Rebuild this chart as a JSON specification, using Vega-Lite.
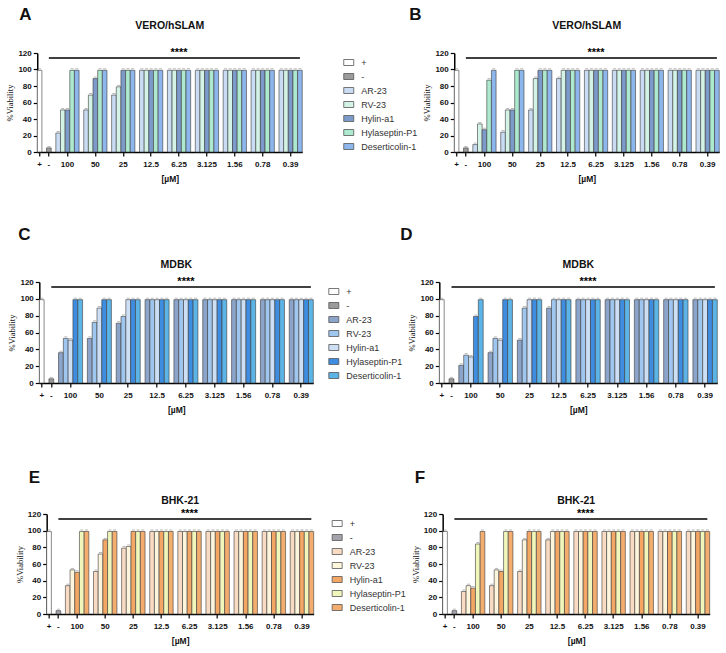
{
"$schema":"https://vega.github.io/schema/vega-lite/v6.json",
"datasets":{
"A":[{"d":"+","t":"+","v":99},{"d":"-","t":"-","v":5},
{"d":"100","t":"AR-23","v":23},{"d":"100","t":"RV-23","v":51},{"d":"100","t":"Hylin-a1","v":51},{"d":"100","t":"Hylaseptin-P1","v":99},{"d":"100","t":"Deserticolin-1","v":99},
{"d":"50","t":"AR-23","v":51},{"d":"50","t":"RV-23","v":69},{"d":"50","t":"Hylin-a1","v":89},{"d":"50","t":"Hylaseptin-P1","v":99},{"d":"50","t":"Deserticolin-1","v":99},
{"d":"25","t":"AR-23","v":69},{"d":"25","t":"RV-23","v":79},{"d":"25","t":"Hylin-a1","v":99},{"d":"25","t":"Hylaseptin-P1","v":99},{"d":"25","t":"Deserticolin-1","v":99},
{"d":"12.5","t":"AR-23","v":99},{"d":"12.5","t":"RV-23","v":99},{"d":"12.5","t":"Hylin-a1","v":99},{"d":"12.5","t":"Hylaseptin-P1","v":99},{"d":"12.5","t":"Deserticolin-1","v":99},
{"d":"6.25","t":"AR-23","v":99},{"d":"6.25","t":"RV-23","v":99},{"d":"6.25","t":"Hylin-a1","v":99},{"d":"6.25","t":"Hylaseptin-P1","v":99},{"d":"6.25","t":"Deserticolin-1","v":99},
{"d":"3.125","t":"AR-23","v":99},{"d":"3.125","t":"RV-23","v":99},{"d":"3.125","t":"Hylin-a1","v":99},{"d":"3.125","t":"Hylaseptin-P1","v":99},{"d":"3.125","t":"Deserticolin-1","v":99},
{"d":"1.56","t":"AR-23","v":99},{"d":"1.56","t":"RV-23","v":99},{"d":"1.56","t":"Hylin-a1","v":99},{"d":"1.56","t":"Hylaseptin-P1","v":99},{"d":"1.56","t":"Deserticolin-1","v":99},
{"d":"0.78","t":"AR-23","v":99},{"d":"0.78","t":"RV-23","v":99},{"d":"0.78","t":"Hylin-a1","v":99},{"d":"0.78","t":"Hylaseptin-P1","v":99},{"d":"0.78","t":"Deserticolin-1","v":99},
{"d":"0.39","t":"AR-23","v":99},{"d":"0.39","t":"RV-23","v":99},{"d":"0.39","t":"Hylin-a1","v":99},{"d":"0.39","t":"Hylaseptin-P1","v":99},{"d":"0.39","t":"Deserticolin-1","v":99}],
"B":[{"d":"+","t":"+","v":99},{"d":"-","t":"-","v":5},
{"d":"100","t":"AR-23","v":9},{"d":"100","t":"RV-23","v":34},{"d":"100","t":"Hylin-a1","v":27},{"d":"100","t":"Hylaseptin-P1","v":87},{"d":"100","t":"Deserticolin-1","v":99},
{"d":"50","t":"AR-23","v":24},{"d":"50","t":"RV-23","v":51},{"d":"50","t":"Hylin-a1","v":51},{"d":"50","t":"Hylaseptin-P1","v":99},{"d":"50","t":"Deserticolin-1","v":99},
{"d":"25","t":"AR-23","v":51},{"d":"25","t":"RV-23","v":89},{"d":"25","t":"Hylin-a1","v":99},{"d":"25","t":"Hylaseptin-P1","v":99},{"d":"25","t":"Deserticolin-1","v":99},
{"d":"12.5","t":"AR-23","v":89},{"d":"12.5","t":"RV-23","v":99},{"d":"12.5","t":"Hylin-a1","v":99},{"d":"12.5","t":"Hylaseptin-P1","v":99},{"d":"12.5","t":"Deserticolin-1","v":99},
{"d":"6.25","t":"AR-23","v":99},{"d":"6.25","t":"RV-23","v":99},{"d":"6.25","t":"Hylin-a1","v":99},{"d":"6.25","t":"Hylaseptin-P1","v":99},{"d":"6.25","t":"Deserticolin-1","v":99},
{"d":"3.125","t":"AR-23","v":99},{"d":"3.125","t":"RV-23","v":99},{"d":"3.125","t":"Hylin-a1","v":99},{"d":"3.125","t":"Hylaseptin-P1","v":99},{"d":"3.125","t":"Deserticolin-1","v":99},
{"d":"1.56","t":"AR-23","v":99},{"d":"1.56","t":"RV-23","v":99},{"d":"1.56","t":"Hylin-a1","v":99},{"d":"1.56","t":"Hylaseptin-P1","v":99},{"d":"1.56","t":"Deserticolin-1","v":99},
{"d":"0.78","t":"AR-23","v":99},{"d":"0.78","t":"RV-23","v":99},{"d":"0.78","t":"Hylin-a1","v":99},{"d":"0.78","t":"Hylaseptin-P1","v":99},{"d":"0.78","t":"Deserticolin-1","v":99},
{"d":"0.39","t":"AR-23","v":99},{"d":"0.39","t":"RV-23","v":99},{"d":"0.39","t":"Hylin-a1","v":99},{"d":"0.39","t":"Hylaseptin-P1","v":99},{"d":"0.39","t":"Deserticolin-1","v":99}],
"C":[{"d":"+","t":"+","v":99},{"d":"-","t":"-","v":5},
{"d":"100","t":"AR-23","v":36},{"d":"100","t":"RV-23","v":53},{"d":"100","t":"Hylin-a1","v":51},{"d":"100","t":"Hylaseptin-P1","v":99},{"d":"100","t":"Deserticolin-1","v":99},
{"d":"50","t":"AR-23","v":53},{"d":"50","t":"RV-23","v":72},{"d":"50","t":"Hylin-a1","v":89},{"d":"50","t":"Hylaseptin-P1","v":99},{"d":"50","t":"Deserticolin-1","v":99},
{"d":"25","t":"AR-23","v":71},{"d":"25","t":"RV-23","v":79},{"d":"25","t":"Hylin-a1","v":99},{"d":"25","t":"Hylaseptin-P1","v":99},{"d":"25","t":"Deserticolin-1","v":99},
{"d":"12.5","t":"AR-23","v":99},{"d":"12.5","t":"RV-23","v":99},{"d":"12.5","t":"Hylin-a1","v":99},{"d":"12.5","t":"Hylaseptin-P1","v":99},{"d":"12.5","t":"Deserticolin-1","v":99},
{"d":"6.25","t":"AR-23","v":99},{"d":"6.25","t":"RV-23","v":99},{"d":"6.25","t":"Hylin-a1","v":99},{"d":"6.25","t":"Hylaseptin-P1","v":99},{"d":"6.25","t":"Deserticolin-1","v":99},
{"d":"3.125","t":"AR-23","v":99},{"d":"3.125","t":"RV-23","v":99},{"d":"3.125","t":"Hylin-a1","v":99},{"d":"3.125","t":"Hylaseptin-P1","v":99},{"d":"3.125","t":"Deserticolin-1","v":99},
{"d":"1.56","t":"AR-23","v":99},{"d":"1.56","t":"RV-23","v":99},{"d":"1.56","t":"Hylin-a1","v":99},{"d":"1.56","t":"Hylaseptin-P1","v":99},{"d":"1.56","t":"Deserticolin-1","v":99},
{"d":"0.78","t":"AR-23","v":99},{"d":"0.78","t":"RV-23","v":99},{"d":"0.78","t":"Hylin-a1","v":99},{"d":"0.78","t":"Hylaseptin-P1","v":99},{"d":"0.78","t":"Deserticolin-1","v":99},
{"d":"0.39","t":"AR-23","v":99},{"d":"0.39","t":"RV-23","v":99},{"d":"0.39","t":"Hylin-a1","v":99},{"d":"0.39","t":"Hylaseptin-P1","v":99},{"d":"0.39","t":"Deserticolin-1","v":99}],
"D":[{"d":"+","t":"+","v":99},{"d":"-","t":"-","v":5},
{"d":"100","t":"AR-23","v":21},{"d":"100","t":"RV-23","v":33},{"d":"100","t":"Hylin-a1","v":31},{"d":"100","t":"Hylaseptin-P1","v":79},{"d":"100","t":"Deserticolin-1","v":99},
{"d":"50","t":"AR-23","v":36},{"d":"50","t":"RV-23","v":53},{"d":"50","t":"Hylin-a1","v":51},{"d":"50","t":"Hylaseptin-P1","v":99},{"d":"50","t":"Deserticolin-1","v":99},
{"d":"25","t":"AR-23","v":51},{"d":"25","t":"RV-23","v":89},{"d":"25","t":"Hylin-a1","v":99},{"d":"25","t":"Hylaseptin-P1","v":99},{"d":"25","t":"Deserticolin-1","v":99},
{"d":"12.5","t":"AR-23","v":89},{"d":"12.5","t":"RV-23","v":99},{"d":"12.5","t":"Hylin-a1","v":99},{"d":"12.5","t":"Hylaseptin-P1","v":99},{"d":"12.5","t":"Deserticolin-1","v":99},
{"d":"6.25","t":"AR-23","v":99},{"d":"6.25","t":"RV-23","v":99},{"d":"6.25","t":"Hylin-a1","v":99},{"d":"6.25","t":"Hylaseptin-P1","v":99},{"d":"6.25","t":"Deserticolin-1","v":99},
{"d":"3.125","t":"AR-23","v":99},{"d":"3.125","t":"RV-23","v":99},{"d":"3.125","t":"Hylin-a1","v":99},{"d":"3.125","t":"Hylaseptin-P1","v":99},{"d":"3.125","t":"Deserticolin-1","v":99},
{"d":"1.56","t":"AR-23","v":99},{"d":"1.56","t":"RV-23","v":99},{"d":"1.56","t":"Hylin-a1","v":99},{"d":"1.56","t":"Hylaseptin-P1","v":99},{"d":"1.56","t":"Deserticolin-1","v":99},
{"d":"0.78","t":"AR-23","v":99},{"d":"0.78","t":"RV-23","v":99},{"d":"0.78","t":"Hylin-a1","v":99},{"d":"0.78","t":"Hylaseptin-P1","v":99},{"d":"0.78","t":"Deserticolin-1","v":99},
{"d":"0.39","t":"AR-23","v":99},{"d":"0.39","t":"RV-23","v":99},{"d":"0.39","t":"Hylin-a1","v":99},{"d":"0.39","t":"Hylaseptin-P1","v":99},{"d":"0.39","t":"Deserticolin-1","v":99}],
"E":[{"d":"+","t":"+","v":99},{"d":"-","t":"-","v":4},
{"d":"100","t":"AR-23","v":34},{"d":"100","t":"RV-23","v":53},{"d":"100","t":"Hylin-a1","v":50},{"d":"100","t":"Hylaseptin-P1","v":99},{"d":"100","t":"Deserticolin-1","v":99},
{"d":"50","t":"AR-23","v":51},{"d":"50","t":"RV-23","v":72},{"d":"50","t":"Hylin-a1","v":89},{"d":"50","t":"Hylaseptin-P1","v":99},{"d":"50","t":"Deserticolin-1","v":99},
{"d":"25","t":"AR-23","v":79},{"d":"25","t":"RV-23","v":81},{"d":"25","t":"Hylin-a1","v":99},{"d":"25","t":"Hylaseptin-P1","v":99},{"d":"25","t":"Deserticolin-1","v":99},
{"d":"12.5","t":"AR-23","v":99},{"d":"12.5","t":"RV-23","v":99},{"d":"12.5","t":"Hylin-a1","v":99},{"d":"12.5","t":"Hylaseptin-P1","v":99},{"d":"12.5","t":"Deserticolin-1","v":99},
{"d":"6.25","t":"AR-23","v":99},{"d":"6.25","t":"RV-23","v":99},{"d":"6.25","t":"Hylin-a1","v":99},{"d":"6.25","t":"Hylaseptin-P1","v":99},{"d":"6.25","t":"Deserticolin-1","v":99},
{"d":"3.125","t":"AR-23","v":99},{"d":"3.125","t":"RV-23","v":99},{"d":"3.125","t":"Hylin-a1","v":99},{"d":"3.125","t":"Hylaseptin-P1","v":99},{"d":"3.125","t":"Deserticolin-1","v":99},
{"d":"1.56","t":"AR-23","v":99},{"d":"1.56","t":"RV-23","v":99},{"d":"1.56","t":"Hylin-a1","v":99},{"d":"1.56","t":"Hylaseptin-P1","v":99},{"d":"1.56","t":"Deserticolin-1","v":99},
{"d":"0.78","t":"AR-23","v":99},{"d":"0.78","t":"RV-23","v":99},{"d":"0.78","t":"Hylin-a1","v":99},{"d":"0.78","t":"Hylaseptin-P1","v":99},{"d":"0.78","t":"Deserticolin-1","v":99},
{"d":"0.39","t":"AR-23","v":99},{"d":"0.39","t":"RV-23","v":99},{"d":"0.39","t":"Hylin-a1","v":99},{"d":"0.39","t":"Hylaseptin-P1","v":99},{"d":"0.39","t":"Deserticolin-1","v":99}],
"F":[{"d":"+","t":"+","v":99},{"d":"-","t":"-","v":4},
{"d":"100","t":"AR-23","v":27},{"d":"100","t":"RV-23","v":34},{"d":"100","t":"Hylin-a1","v":31},{"d":"100","t":"Hylaseptin-P1","v":84},{"d":"100","t":"Deserticolin-1","v":99},
{"d":"50","t":"AR-23","v":34},{"d":"50","t":"RV-23","v":53},{"d":"50","t":"Hylin-a1","v":51},{"d":"50","t":"Hylaseptin-P1","v":99},{"d":"50","t":"Deserticolin-1","v":99},
{"d":"25","t":"AR-23","v":51},{"d":"25","t":"RV-23","v":89},{"d":"25","t":"Hylin-a1","v":99},{"d":"25","t":"Hylaseptin-P1","v":99},{"d":"25","t":"Deserticolin-1","v":99},
{"d":"12.5","t":"AR-23","v":89},{"d":"12.5","t":"RV-23","v":99},{"d":"12.5","t":"Hylin-a1","v":99},{"d":"12.5","t":"Hylaseptin-P1","v":99},{"d":"12.5","t":"Deserticolin-1","v":99},
{"d":"6.25","t":"AR-23","v":99},{"d":"6.25","t":"RV-23","v":99},{"d":"6.25","t":"Hylin-a1","v":99},{"d":"6.25","t":"Hylaseptin-P1","v":99},{"d":"6.25","t":"Deserticolin-1","v":99},
{"d":"3.125","t":"AR-23","v":99},{"d":"3.125","t":"RV-23","v":99},{"d":"3.125","t":"Hylin-a1","v":99},{"d":"3.125","t":"Hylaseptin-P1","v":99},{"d":"3.125","t":"Deserticolin-1","v":99},
{"d":"1.56","t":"AR-23","v":99},{"d":"1.56","t":"RV-23","v":99},{"d":"1.56","t":"Hylin-a1","v":99},{"d":"1.56","t":"Hylaseptin-P1","v":99},{"d":"1.56","t":"Deserticolin-1","v":99},
{"d":"0.78","t":"AR-23","v":99},{"d":"0.78","t":"RV-23","v":99},{"d":"0.78","t":"Hylin-a1","v":99},{"d":"0.78","t":"Hylaseptin-P1","v":99},{"d":"0.78","t":"Deserticolin-1","v":99},
{"d":"0.39","t":"AR-23","v":99},{"d":"0.39","t":"RV-23","v":99},{"d":"0.39","t":"Hylin-a1","v":99},{"d":"0.39","t":"Hylaseptin-P1","v":99},{"d":"0.39","t":"Deserticolin-1","v":99}]
},
"config":{
"view":{"stroke":null},
"font":"Liberation Sans",
"axis":{"domainColor":"#000","domainWidth":1.5,"tickColor":"#000","tickWidth":1.2,"tickSize":4,"labelFont":"Liberation Sans","labelFontWeight":"bold","labelFontSize":8,"labelColor":"#111","grid":false,"titleColor":"#111"},
"axisX":{"labelAngle":0,"labelPadding":4,"titleFont":"Liberation Sans","titleFontWeight":"bold","titleFontSize":8.5,"titlePadding":6},
"axisY":{"titleFont":"Liberation Serif","titleFontWeight":"normal","titleFontSize":8.5,"titlePadding":3,"labelPadding":2},
"legend":{"symbolType":"M-1,-0.6H1V0.6H-1Z","symbolSize":100,"symbolStrokeColor":"#555","symbolStrokeWidth":0.8,"labelFont":"Liberation Sans","labelFontSize":9,"labelColor":"#333","rowPadding":3,"labelOffset":7,"offset":0,"padding":4},
"title":{"font":"Liberation Sans","fontWeight":"bold","fontSize":10.5,"color":"#111","frame":"group"}
},
"spacing":54,
"center":true,
"resolve":{"scale":{"color":"independent"}},
"vconcat":[
{"spacing":42,"center":true,"resolve":{"scale":{"color":"independent"}},"vconcat":[
{"spacing":36,"resolve":{"scale":{"color":"independent"}},"hconcat":[
{"title":{"text":"A","anchor":"start","fontSize":17,"offset":-3,"dx":-18},"vconcat":[
{"width":265,"height":99,"title":{"text":"VERO/hSLAM","offset":16},"data":{"name":"A"},
"transform":[{"calculate":"datum.d + ' ' + datum.t","as":"k"}],
"encoding":{"x":{"field":"k","type":"nominal","scale":{"domain":["+ +","g0","- -","g1","100 AR-23","100 RV-23","100 Hylin-a1","100 Hylaseptin-P1","100 Deserticolin-1","g2","50 AR-23","50 RV-23","50 Hylin-a1","50 Hylaseptin-P1","50 Deserticolin-1","g3","25 AR-23","25 RV-23","25 Hylin-a1","25 Hylaseptin-P1","25 Deserticolin-1","g4","12.5 AR-23","12.5 RV-23","12.5 Hylin-a1","12.5 Hylaseptin-P1","12.5 Deserticolin-1","g5","6.25 AR-23","6.25 RV-23","6.25 Hylin-a1","6.25 Hylaseptin-P1","6.25 Deserticolin-1","g6","3.125 AR-23","3.125 RV-23","3.125 Hylin-a1","3.125 Hylaseptin-P1","3.125 Deserticolin-1","g7","1.56 AR-23","1.56 RV-23","1.56 Hylin-a1","1.56 Hylaseptin-P1","1.56 Deserticolin-1","g8","0.78 AR-23","0.78 RV-23","0.78 Hylin-a1","0.78 Hylaseptin-P1","0.78 Deserticolin-1","g9","0.39 AR-23","0.39 RV-23","0.39 Hylin-a1","0.39 Hylaseptin-P1","0.39 Deserticolin-1"],"paddingInner":0,"paddingOuter":0},"axis":{"values":["+ +","- -","100 Hylin-a1","50 Hylin-a1","25 Hylin-a1","12.5 Hylin-a1","6.25 Hylin-a1","3.125 Hylin-a1","1.56 Hylin-a1","0.78 Hylin-a1","0.39 Hylin-a1"],"labelExpr":"split(datum.value, ' ')[0]","title":"[µM]"}},
"y":{"field":"v","type":"quantitative","scale":{"domain":[0,120]},"axis":{"values":[0,20,40,60,80,100,120],"title":"%Viability"}}},
"layer":[
{"mark":{"type":"bar","stroke":"#3a3a3a","strokeWidth":0.6},"encoding":{"color":{"field":"t","type":"nominal","scale":{"domain":["+","-","AR-23","RV-23","Hylin-a1","Hylaseptin-P1","Deserticolin-1"],"range":["#ffffff","#9b9b9b","#c9dcf4","#d3f3e6","#7d9bca","#ade9cf","#8cb6ec"]},"legend":null}}},
{"mark":{"type":"tick","color":"#808080","size":3,"thickness":0.8,"yOffset":-1.5},"encoding":{}},
{"transform":[{"filter":"datum.t !== '+'"}],"mark":{"type":"line","color":"#000","strokeWidth":1.5},"encoding":{"y":{"datum":114}}},
{"transform":[{"filter":"datum.k === '6.25 Hylin-a1'"}],"mark":{"type":"text","fontSize":11,"fontWeight":"bold","baseline":"middle","color":"#000"},"encoding":{"y":{"datum":119.5},"text":{"value":"****"}}}
]}]},
{"title":{"text":"B","anchor":"start","fontSize":17,"offset":-3,"dx":-45},"vconcat":[
{"width":265,"height":99,"title":{"text":"VERO/hSLAM","offset":16},"data":{"name":"B"},
"transform":[{"calculate":"datum.d + ' ' + datum.t","as":"k"}],
"encoding":{"x":{"field":"k","type":"nominal","scale":{"domain":["+ +","g0","- -","g1","100 AR-23","100 RV-23","100 Hylin-a1","100 Hylaseptin-P1","100 Deserticolin-1","g2","50 AR-23","50 RV-23","50 Hylin-a1","50 Hylaseptin-P1","50 Deserticolin-1","g3","25 AR-23","25 RV-23","25 Hylin-a1","25 Hylaseptin-P1","25 Deserticolin-1","g4","12.5 AR-23","12.5 RV-23","12.5 Hylin-a1","12.5 Hylaseptin-P1","12.5 Deserticolin-1","g5","6.25 AR-23","6.25 RV-23","6.25 Hylin-a1","6.25 Hylaseptin-P1","6.25 Deserticolin-1","g6","3.125 AR-23","3.125 RV-23","3.125 Hylin-a1","3.125 Hylaseptin-P1","3.125 Deserticolin-1","g7","1.56 AR-23","1.56 RV-23","1.56 Hylin-a1","1.56 Hylaseptin-P1","1.56 Deserticolin-1","g8","0.78 AR-23","0.78 RV-23","0.78 Hylin-a1","0.78 Hylaseptin-P1","0.78 Deserticolin-1","g9","0.39 AR-23","0.39 RV-23","0.39 Hylin-a1","0.39 Hylaseptin-P1","0.39 Deserticolin-1"],"paddingInner":0,"paddingOuter":0},"axis":{"values":["+ +","- -","100 Hylin-a1","50 Hylin-a1","25 Hylin-a1","12.5 Hylin-a1","6.25 Hylin-a1","3.125 Hylin-a1","1.56 Hylin-a1","0.78 Hylin-a1","0.39 Hylin-a1"],"labelExpr":"split(datum.value, ' ')[0]","title":"[µM]"}},
"y":{"field":"v","type":"quantitative","scale":{"domain":[0,120]},"axis":{"values":[0,20,40,60,80,100,120],"title":"%Viability"}}},
"layer":[
{"mark":{"type":"bar","stroke":"#3a3a3a","strokeWidth":0.6},"encoding":{"color":{"field":"t","type":"nominal","scale":{"domain":["+","-","AR-23","RV-23","Hylin-a1","Hylaseptin-P1","Deserticolin-1"],"range":["#ffffff","#9b9b9b","#c9dcf4","#d3f3e6","#7d9bca","#ade9cf","#8cb6ec"]},"legend":{"orient":"left","title":null}}}},
{"mark":{"type":"tick","color":"#808080","size":3,"thickness":0.8,"yOffset":-1.5},"encoding":{}},
{"transform":[{"filter":"datum.t !== '+'"}],"mark":{"type":"line","color":"#000","strokeWidth":1.5},"encoding":{"y":{"datum":114}}},
{"transform":[{"filter":"datum.k === '6.25 Hylin-a1'"}],"mark":{"type":"text","fontSize":11,"fontWeight":"bold","baseline":"middle","color":"#000"},"encoding":{"y":{"datum":119.5},"text":{"value":"****"}}}
]}]}
]},
{"spacing":10,"resolve":{"scale":{"color":"independent"}},"hconcat":[
{"title":{"text":"C","anchor":"start","fontSize":17,"offset":16,"dx":-21},"vconcat":[
{"width":274,"height":101,"title":{"text":"MDBK","offset":6},"data":{"name":"C"},
"transform":[{"calculate":"datum.d + ' ' + datum.t","as":"k"}],
"encoding":{"x":{"field":"k","type":"nominal","scale":{"domain":["+ +","g0","- -","g1","100 AR-23","100 RV-23","100 Hylin-a1","100 Hylaseptin-P1","100 Deserticolin-1","g2","50 AR-23","50 RV-23","50 Hylin-a1","50 Hylaseptin-P1","50 Deserticolin-1","g3","25 AR-23","25 RV-23","25 Hylin-a1","25 Hylaseptin-P1","25 Deserticolin-1","g4","12.5 AR-23","12.5 RV-23","12.5 Hylin-a1","12.5 Hylaseptin-P1","12.5 Deserticolin-1","g5","6.25 AR-23","6.25 RV-23","6.25 Hylin-a1","6.25 Hylaseptin-P1","6.25 Deserticolin-1","g6","3.125 AR-23","3.125 RV-23","3.125 Hylin-a1","3.125 Hylaseptin-P1","3.125 Deserticolin-1","g7","1.56 AR-23","1.56 RV-23","1.56 Hylin-a1","1.56 Hylaseptin-P1","1.56 Deserticolin-1","g8","0.78 AR-23","0.78 RV-23","0.78 Hylin-a1","0.78 Hylaseptin-P1","0.78 Deserticolin-1","g9","0.39 AR-23","0.39 RV-23","0.39 Hylin-a1","0.39 Hylaseptin-P1","0.39 Deserticolin-1"],"paddingInner":0,"paddingOuter":0},"axis":{"values":["+ +","- -","100 Hylin-a1","50 Hylin-a1","25 Hylin-a1","12.5 Hylin-a1","6.25 Hylin-a1","3.125 Hylin-a1","1.56 Hylin-a1","0.78 Hylin-a1","0.39 Hylin-a1"],"labelExpr":"split(datum.value, ' ')[0]","title":"[µM]"}},
"y":{"field":"v","type":"quantitative","scale":{"domain":[0,120]},"axis":{"values":[0,20,40,60,80,100,120],"title":"%Viability"}}},
"layer":[
{"mark":{"type":"bar","stroke":"#3a3a3a","strokeWidth":0.6},"encoding":{"color":{"field":"t","type":"nominal","scale":{"domain":["+","-","AR-23","RV-23","Hylin-a1","Hylaseptin-P1","Deserticolin-1"],"range":["#ffffff","#9b9b9b","#8ca4c9","#9fc6ef","#cddff5","#3f8de0","#5cb3e6"]},"legend":null}}},
{"mark":{"type":"tick","color":"#808080","size":3,"thickness":0.8,"yOffset":-1.5},"encoding":{}},
{"transform":[{"filter":"datum.t !== '+'"}],"mark":{"type":"line","color":"#000","strokeWidth":1.5},"encoding":{"y":{"datum":114}}},
{"transform":[{"filter":"datum.k === '6.25 Hylin-a1'"}],"mark":{"type":"text","fontSize":11,"fontWeight":"bold","baseline":"middle","color":"#000"},"encoding":{"y":{"datum":119.5},"text":{"value":"****"}}}
]}]},
{"title":{"text":"D","anchor":"start","fontSize":17,"offset":16,"dx":-39},"vconcat":[
{"width":278,"height":101,"title":{"text":"MDBK","offset":6},"data":{"name":"D"},
"transform":[{"calculate":"datum.d + ' ' + datum.t","as":"k"}],
"encoding":{"x":{"field":"k","type":"nominal","scale":{"domain":["+ +","g0","- -","g1","100 AR-23","100 RV-23","100 Hylin-a1","100 Hylaseptin-P1","100 Deserticolin-1","g2","50 AR-23","50 RV-23","50 Hylin-a1","50 Hylaseptin-P1","50 Deserticolin-1","g3","25 AR-23","25 RV-23","25 Hylin-a1","25 Hylaseptin-P1","25 Deserticolin-1","g4","12.5 AR-23","12.5 RV-23","12.5 Hylin-a1","12.5 Hylaseptin-P1","12.5 Deserticolin-1","g5","6.25 AR-23","6.25 RV-23","6.25 Hylin-a1","6.25 Hylaseptin-P1","6.25 Deserticolin-1","g6","3.125 AR-23","3.125 RV-23","3.125 Hylin-a1","3.125 Hylaseptin-P1","3.125 Deserticolin-1","g7","1.56 AR-23","1.56 RV-23","1.56 Hylin-a1","1.56 Hylaseptin-P1","1.56 Deserticolin-1","g8","0.78 AR-23","0.78 RV-23","0.78 Hylin-a1","0.78 Hylaseptin-P1","0.78 Deserticolin-1","g9","0.39 AR-23","0.39 RV-23","0.39 Hylin-a1","0.39 Hylaseptin-P1","0.39 Deserticolin-1"],"paddingInner":0,"paddingOuter":0},"axis":{"values":["+ +","- -","100 Hylin-a1","50 Hylin-a1","25 Hylin-a1","12.5 Hylin-a1","6.25 Hylin-a1","3.125 Hylin-a1","1.56 Hylin-a1","0.78 Hylin-a1","0.39 Hylin-a1"],"labelExpr":"split(datum.value, ' ')[0]","title":"[µM]"}},
"y":{"field":"v","type":"quantitative","scale":{"domain":[0,120]},"axis":{"values":[0,20,40,60,80,100,120],"title":"%Viability"}}},
"layer":[
{"mark":{"type":"bar","stroke":"#3a3a3a","strokeWidth":0.6},"encoding":{"color":{"field":"t","type":"nominal","scale":{"domain":["+","-","AR-23","RV-23","Hylin-a1","Hylaseptin-P1","Deserticolin-1"],"range":["#ffffff","#9b9b9b","#8ca4c9","#9fc6ef","#cddff5","#3f8de0","#5cb3e6"]},"legend":{"orient":"left","title":null}}}},
{"mark":{"type":"tick","color":"#808080","size":3,"thickness":0.8,"yOffset":-1.5},"encoding":{}},
{"transform":[{"filter":"datum.t !== '+'"}],"mark":{"type":"line","color":"#000","strokeWidth":1.5},"encoding":{"y":{"datum":114}}},
{"transform":[{"filter":"datum.k === '6.25 Hylin-a1'"}],"mark":{"type":"text","fontSize":11,"fontWeight":"bold","baseline":"middle","color":"#000"},"encoding":{"y":{"datum":119.5},"text":{"value":"****"}}}
]}]}
]}
]},
{"spacing":13,"resolve":{"scale":{"color":"independent"}},"hconcat":[
{"title":{"text":"E","anchor":"start","fontSize":17,"offset":9,"dx":-18},"vconcat":[
{"width":267,"height":100,"title":{"text":"BHK-21","offset":2},"data":{"name":"E"},
"transform":[{"calculate":"datum.d + ' ' + datum.t","as":"k"}],
"encoding":{"x":{"field":"k","type":"nominal","scale":{"domain":["+ +","g0","- -","g1","100 AR-23","100 RV-23","100 Hylin-a1","100 Hylaseptin-P1","100 Deserticolin-1","g2","50 AR-23","50 RV-23","50 Hylin-a1","50 Hylaseptin-P1","50 Deserticolin-1","g3","25 AR-23","25 RV-23","25 Hylin-a1","25 Hylaseptin-P1","25 Deserticolin-1","g4","12.5 AR-23","12.5 RV-23","12.5 Hylin-a1","12.5 Hylaseptin-P1","12.5 Deserticolin-1","g5","6.25 AR-23","6.25 RV-23","6.25 Hylin-a1","6.25 Hylaseptin-P1","6.25 Deserticolin-1","g6","3.125 AR-23","3.125 RV-23","3.125 Hylin-a1","3.125 Hylaseptin-P1","3.125 Deserticolin-1","g7","1.56 AR-23","1.56 RV-23","1.56 Hylin-a1","1.56 Hylaseptin-P1","1.56 Deserticolin-1","g8","0.78 AR-23","0.78 RV-23","0.78 Hylin-a1","0.78 Hylaseptin-P1","0.78 Deserticolin-1","g9","0.39 AR-23","0.39 RV-23","0.39 Hylin-a1","0.39 Hylaseptin-P1","0.39 Deserticolin-1"],"paddingInner":0,"paddingOuter":0},"axis":{"values":["+ +","- -","100 Hylin-a1","50 Hylin-a1","25 Hylin-a1","12.5 Hylin-a1","6.25 Hylin-a1","3.125 Hylin-a1","1.56 Hylin-a1","0.78 Hylin-a1","0.39 Hylin-a1"],"labelExpr":"split(datum.value, ' ')[0]","title":"[µM]"}},
"y":{"field":"v","type":"quantitative","scale":{"domain":[0,120]},"axis":{"values":[0,20,40,60,80,100,120],"title":"%Viability"}}},
"layer":[
{"mark":{"type":"bar","stroke":"#3a3a3a","strokeWidth":0.6},"encoding":{"color":{"field":"t","type":"nominal","scale":{"domain":["+","-","AR-23","RV-23","Hylin-a1","Hylaseptin-P1","Deserticolin-1"],"range":["#ffffff","#a3a3ab","#f8dbc2","#fdf6dc","#f4a764","#f1f6bb","#f3ad6e"]},"legend":null}}},
{"mark":{"type":"tick","color":"#808080","size":3,"thickness":0.8,"yOffset":-1.5},"encoding":{}},
{"transform":[{"filter":"datum.t !== '+'"}],"mark":{"type":"line","color":"#000","strokeWidth":1.5},"encoding":{"y":{"datum":114}}},
{"transform":[{"filter":"datum.k === '6.25 Hylin-a1'"}],"mark":{"type":"text","fontSize":11,"fontWeight":"bold","baseline":"middle","color":"#000"},"encoding":{"y":{"datum":119.5},"text":{"value":"****"}}}
]}]},
{"title":{"text":"F","anchor":"start","fontSize":17,"offset":9,"dx":-28},"vconcat":[
{"width":267,"height":100,"title":{"text":"BHK-21","offset":2},"data":{"name":"F"},
"transform":[{"calculate":"datum.d + ' ' + datum.t","as":"k"}],
"encoding":{"x":{"field":"k","type":"nominal","scale":{"domain":["+ +","g0","- -","g1","100 AR-23","100 RV-23","100 Hylin-a1","100 Hylaseptin-P1","100 Deserticolin-1","g2","50 AR-23","50 RV-23","50 Hylin-a1","50 Hylaseptin-P1","50 Deserticolin-1","g3","25 AR-23","25 RV-23","25 Hylin-a1","25 Hylaseptin-P1","25 Deserticolin-1","g4","12.5 AR-23","12.5 RV-23","12.5 Hylin-a1","12.5 Hylaseptin-P1","12.5 Deserticolin-1","g5","6.25 AR-23","6.25 RV-23","6.25 Hylin-a1","6.25 Hylaseptin-P1","6.25 Deserticolin-1","g6","3.125 AR-23","3.125 RV-23","3.125 Hylin-a1","3.125 Hylaseptin-P1","3.125 Deserticolin-1","g7","1.56 AR-23","1.56 RV-23","1.56 Hylin-a1","1.56 Hylaseptin-P1","1.56 Deserticolin-1","g8","0.78 AR-23","0.78 RV-23","0.78 Hylin-a1","0.78 Hylaseptin-P1","0.78 Deserticolin-1","g9","0.39 AR-23","0.39 RV-23","0.39 Hylin-a1","0.39 Hylaseptin-P1","0.39 Deserticolin-1"],"paddingInner":0,"paddingOuter":0},"axis":{"values":["+ +","- -","100 Hylin-a1","50 Hylin-a1","25 Hylin-a1","12.5 Hylin-a1","6.25 Hylin-a1","3.125 Hylin-a1","1.56 Hylin-a1","0.78 Hylin-a1","0.39 Hylin-a1"],"labelExpr":"split(datum.value, ' ')[0]","title":"[µM]"}},
"y":{"field":"v","type":"quantitative","scale":{"domain":[0,120]},"axis":{"values":[0,20,40,60,80,100,120],"title":"%Viability"}}},
"layer":[
{"mark":{"type":"bar","stroke":"#3a3a3a","strokeWidth":0.6},"encoding":{"color":{"field":"t","type":"nominal","scale":{"domain":["+","-","AR-23","RV-23","Hylin-a1","Hylaseptin-P1","Deserticolin-1"],"range":["#ffffff","#a3a3ab","#f8dbc2","#fdf6dc","#f4a764","#f1f6bb","#f3ad6e"]},"legend":{"orient":"left","title":null}}}},
{"mark":{"type":"tick","color":"#808080","size":3,"thickness":0.8,"yOffset":-1.5},"encoding":{}},
{"transform":[{"filter":"datum.t !== '+'"}],"mark":{"type":"line","color":"#000","strokeWidth":1.5},"encoding":{"y":{"datum":114}}},
{"transform":[{"filter":"datum.k === '6.25 Hylin-a1'"}],"mark":{"type":"text","fontSize":11,"fontWeight":"bold","baseline":"middle","color":"#000"},"encoding":{"y":{"datum":119.5},"text":{"value":"****"}}}
]}]}
]}
]
}
